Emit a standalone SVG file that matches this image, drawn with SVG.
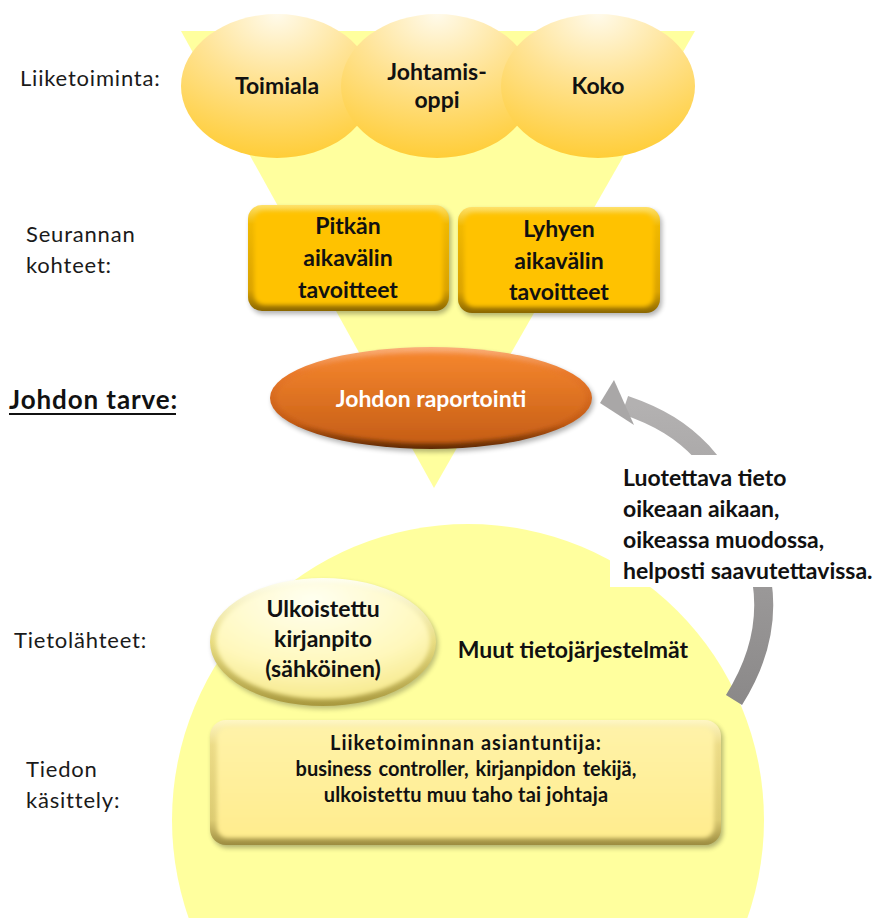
<svg xmlns="http://www.w3.org/2000/svg" width="887" height="918" viewBox="0 0 887 918">
  <defs>
    <style>
      .lbl { font-family: Lato, "Liberation Sans", sans-serif; font-size: 22px; fill: #1a1a1a; letter-spacing: 0.8px; }
      .b { font-family: Lato, "Liberation Sans", sans-serif; font-weight: bold; fill: #111; text-anchor: middle; }
      .t23 { font-size: 23px; }
      .small { font-size: 20px; }
    </style>
    <radialGradient id="ballGrad" cx="0.5" cy="0.08" r="0.95" fx="0.5" fy="0.0">
      <stop offset="0" stop-color="#fffaea"/>
      <stop offset="0.45" stop-color="#ffe394"/>
      <stop offset="1" stop-color="#ffcc33"/>
    </radialGradient>
    <linearGradient id="goldEdge" x1="0" y1="0" x2="0" y2="1">
      <stop offset="0" stop-color="#ffe16a"/>
      <stop offset="0.18" stop-color="#f0b800"/>
      <stop offset="0.8" stop-color="#d9a200"/>
      <stop offset="1" stop-color="#8a6600"/>
    </linearGradient>
    <linearGradient id="paleEdge" x1="0" y1="0" x2="0" y2="1">
      <stop offset="0" stop-color="#fff7c4"/>
      <stop offset="0.2" stop-color="#ecdc88"/>
      <stop offset="0.8" stop-color="#dccb72"/>
      <stop offset="1" stop-color="#9c8c40"/>
    </linearGradient>
    <linearGradient id="paleFill" x1="0" y1="0" x2="0" y2="1">
      <stop offset="0" stop-color="#fff3a8"/>
      <stop offset="1" stop-color="#ffec8e"/>
    </linearGradient>
    <linearGradient id="ovalEdge" x1="0" y1="0" x2="0" y2="1">
      <stop offset="0" stop-color="#fffff2"/>
      <stop offset="0.5" stop-color="#e8dc80"/>
      <stop offset="1" stop-color="#a8983e"/>
    </linearGradient>
    <radialGradient id="ovalFill" cx="0.45" cy="0.15" r="0.95">
      <stop offset="0" stop-color="#fffff0"/>
      <stop offset="0.6" stop-color="#fff8bc"/>
      <stop offset="1" stop-color="#f3e47e"/>
    </radialGradient>
    <linearGradient id="orangeEdge" x1="0" y1="0" x2="0" y2="1">
      <stop offset="0" stop-color="#fbb07a"/>
      <stop offset="0.25" stop-color="#ea7a2c"/>
      <stop offset="0.75" stop-color="#c25a14"/>
      <stop offset="1" stop-color="#5e2a04"/>
    </linearGradient>
    <linearGradient id="orangeFill" x1="0" y1="0" x2="0" y2="1">
      <stop offset="0" stop-color="#f5862e"/>
      <stop offset="1" stop-color="#c65e16"/>
    </linearGradient>
    <linearGradient id="arrowGrad" x1="0" y1="0" x2="0" y2="1">
      <stop offset="0" stop-color="#b3b1b1"/>
      <stop offset="1" stop-color="#8b8989"/>
    </linearGradient>
    <filter id="soft" x="-10%" y="-10%" width="120%" height="120%">
      <feGaussianBlur stdDeviation="2"/>
    </filter>
    <filter id="shadow" x="-10%" y="-10%" width="120%" height="130%">
      <feGaussianBlur stdDeviation="2.5"/>
    </filter>
  </defs>

  <rect width="887" height="918" fill="#ffffff"/>

  <!-- background funnel and base disc -->
  <g id="funnel">
    <polygon points="181,31 695,31 434,488" fill="#ffff9e"/>
  </g>
  <g id="base-disc">
    <circle cx="468" cy="820" r="296" fill="#ffff9e"/>
  </g>

  <!-- curved feedback arrow (middle hidden behind the caption box) -->
  <g id="connectors">
    <path d="M734,700 C758,662 768,622 762,582 C755,532 735,488 702,452 C682,431 660,417 625,405"
          fill="none" stroke="url(#arrowGrad)" stroke-width="19"/>
    <polygon points="600,403 614,380 634,425" fill="#a9a7a7"/>
  </g>

  <!-- caption box -->
  <g id="caption">
    <rect x="610" y="455" width="277" height="132" fill="#ffffff"/>
    <text class="b t23" style="text-anchor:start">
      <tspan x="623" y="486">Luotettava tieto</tspan>
      <tspan x="623" y="517">oikeaan aikaan,</tspan>
      <tspan x="623" y="548">oikeassa muodossa,</tspan>
      <tspan x="623" y="579">helposti saavutettavissa.</tspan>
    </text>
  </g>

  <!-- business factors -->
  <g id="toimiala">
    <ellipse cx="277" cy="86" rx="96" ry="72" fill="url(#ballGrad)"/>
    <text class="b t23" x="277" y="94">Toimiala</text>
  </g>
  <g id="johtamisoppi">
    <ellipse cx="437" cy="86" rx="96" ry="72" fill="url(#ballGrad)"/>
    <text class="b t23" x="437" y="80">Johtamis-</text>
    <text class="b t23" x="437" y="108">oppi</text>
  </g>
  <g id="koko">
    <ellipse cx="598" cy="86" rx="97" ry="72" fill="url(#ballGrad)"/>
    <text class="b t23" x="598" y="94">Koko</text>
  </g>

  <!-- monitoring targets -->
  <g id="pitkan">
    <rect x="250" y="208" width="201" height="106" rx="14" fill="#000" opacity="0.3" filter="url(#shadow)"/>
    <rect x="248" y="205" width="201" height="106" rx="14" fill="url(#goldEdge)"/>
    <rect x="254" y="211" width="189" height="94" rx="10" fill="#ffc200" filter="url(#soft)"/>
    <text class="b t23" x="348" y="234">Pitkän</text>
    <text class="b t23" x="348" y="266">aikavälin</text>
    <text class="b t23" x="348" y="298">tavoitteet</text>
  </g>
  <g id="lyhyen">
    <rect x="460" y="210" width="202" height="106" rx="14" fill="#000" opacity="0.3" filter="url(#shadow)"/>
    <rect x="458" y="207" width="202" height="106" rx="14" fill="url(#goldEdge)"/>
    <rect x="464" y="213" width="190" height="94" rx="10" fill="#ffc200" filter="url(#soft)"/>
    <text class="b t23" x="559" y="237">Lyhyen</text>
    <text class="b t23" x="559" y="269">aikavälin</text>
    <text class="b t23" x="559" y="300">tavoitteet</text>
  </g>

  <!-- management reporting -->
  <g id="raportointi">
    <ellipse cx="433" cy="401" rx="161" ry="51" fill="#000" opacity="0.3" filter="url(#shadow)"/>
    <ellipse cx="431" cy="398" rx="161" ry="51" fill="url(#orangeEdge)"/>
    <ellipse cx="431" cy="398" rx="155" ry="45" fill="url(#orangeFill)" filter="url(#soft)"/>
    <text class="b t23" x="431" y="407" style="fill:#ffffff">Johdon raportointi</text>
  </g>

  <!-- data sources -->
  <g id="kirjanpito">
    <ellipse cx="325" cy="645" rx="113" ry="64" fill="#000" opacity="0.25" filter="url(#shadow)"/>
    <ellipse cx="323" cy="642" rx="113" ry="64" fill="url(#ovalEdge)"/>
    <ellipse cx="323" cy="641" rx="107" ry="58" fill="url(#ovalFill)" filter="url(#soft)"/>
    <text class="b t23" x="323" y="617">Ulkoistettu</text>
    <text class="b t23" x="323" y="647">kirjanpito</text>
    <text class="b t23" x="323" y="677">(sähköinen)</text>
  </g>
  <g id="muut">
    <text class="b t23" x="573" y="658">Muut tietojärjestelmät</text>
  </g>

  <!-- data processing -->
  <g id="asiantuntija">
    <rect x="212" y="723" width="511" height="125" rx="16" fill="#000" opacity="0.3" filter="url(#shadow)"/>
    <rect x="210" y="720" width="511" height="125" rx="16" fill="url(#paleEdge)"/>
    <rect x="217" y="727" width="497" height="111" rx="11" fill="url(#paleFill)" filter="url(#soft)"/>
    <text class="b small" x="466" y="750" style="letter-spacing:1px">Liiketoiminnan asiantuntija:</text>
    <text class="b small" x="466" y="776" style="word-spacing:2px">business controller, kirjanpidon tekijä,</text>
    <text class="b small" x="466" y="802" style="letter-spacing:0.2px">ulkoistettu muu taho tai johtaja</text>
  </g>

  <!-- row labels -->
  <g id="labels">
    <text class="lbl" x="20" y="86">Liiketoiminta:</text>
    <text class="lbl" x="26" y="242">Seurannan</text>
    <text class="lbl" x="26" y="273">kohteet:</text>
    <text x="9" y="409" style="font-family: Lato, 'Liberation Sans', sans-serif; font-weight: bold; font-size: 26px; fill:#111; letter-spacing:0.9px">Johdon tarve:</text>
    <line x1="9" y1="414" x2="176" y2="414" stroke="#111" stroke-width="2"/>
    <text class="lbl" x="14" y="648">Tietolähteet:</text>
    <text class="lbl" x="26" y="777">Tiedon</text>
    <text class="lbl" x="26" y="808">käsittely:</text>
  </g>
</svg>
